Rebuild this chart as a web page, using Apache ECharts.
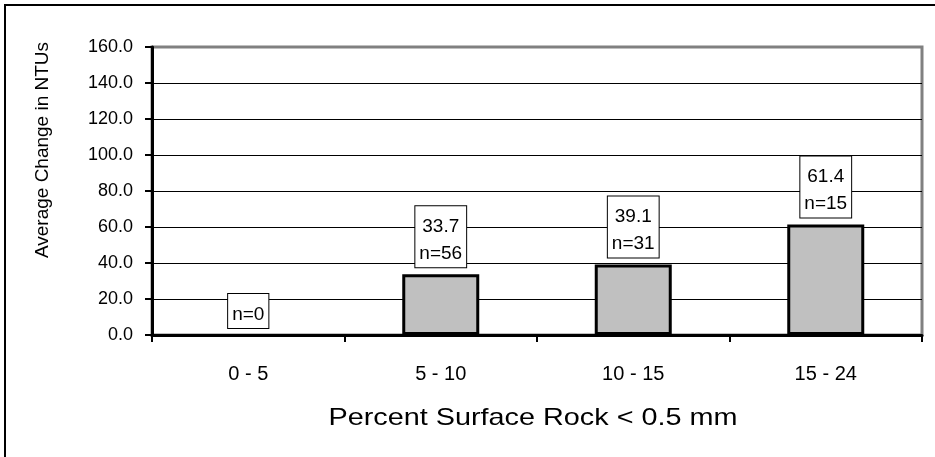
<!DOCTYPE html>
<html>
<head>
<meta charset="utf-8">
<script src="https://cdn.jsdelivr.net/npm/echarts@6/dist/echarts.min.js"></script>
<style>
  html, body { margin: 0; padding: 0; background: #fff; }
  #chart { width: 935px; height: 457px; }
</style>
</head>
<body>
<div id="chart"></div>
<script>
// ---- Data ----
const categories = ['0 - 5', '5 - 10', '10 - 15', '15 - 24'];
const avgChange = [0, 33.7, 39.1, 61.4];
const sampleCounts = [0, 56, 31, 15];
const yMin = 0, yMax = 160, yStep = 20;
const xTitle = 'Percent Surface Rock < 0.5 mm';
const yTitle = 'Average Change in NTUs';

const FONT = '"Liberation Sans", Arial, Helvetica, sans-serif';

const chart = echarts.init(document.getElementById('chart'), null, { renderer: 'canvas' });

const barData = avgChange.map((v, i) => ({
  value: v,
  n: sampleCounts[i],
  itemStyle: v === 0 ? { borderWidth: 0 } : {}
}));

chart.setOption({
  backgroundColor: '#ffffff',
  animation: false,
  grid: {
    left: 152, right: 13, top: 47, bottom: 122,
    show: true,
    borderColor: '#808080',
    borderWidth: 3,
    backgroundColor: 'transparent'
  },
  xAxis: {
    type: 'category',
    data: categories,
    boundaryGap: true,
    axisLine: { show: true, lineStyle: { color: '#000', width: 3 } },
    axisTick: { show: true, length: 7, alignWithLabel: false, lineStyle: { color: '#000', width: 2 } },
    axisLabel: { color: '#000', fontSize: 20, fontFamily: FONT, margin: 29 },
    splitLine: { show: false }
  },
  yAxis: {
    type: 'value',
    min: yMin, max: yMax, interval: yStep,
    axisLine: { show: true, lineStyle: { color: '#000', width: 3 } },
    axisTick: { show: true, length: 7, inside: false, lineStyle: { color: '#000', width: 2 } },
    axisLabel: {
      color: '#000', fontSize: 18, fontFamily: FONT, margin: 12,
      padding: [6, 7, 0, 0],
      formatter: v => v.toFixed(1)
    },
    splitLine: { show: true, showMaxLine: false, lineStyle: { color: '#000', width: 1 } }
  },
  series: [{
    type: 'bar',
    data: barData,
    barWidth: 77,
    itemStyle: { color: '#c0c0c0', borderColor: '#000', borderWidth: 3 },
    label: {
      show: true,
      position: 'top',
      distance: 7,
      color: '#000',
      fontSize: 19,
      fontFamily: FONT,
      lineHeight: 27,
      backgroundColor: '#fff',
      borderColor: '#000',
      borderWidth: 1,
      padding: [7, 4, 0, 4],
      formatter: p => p.value > 0 ? (p.value.toFixed(1) + '\nn=' + p.data.n) : ('n=' + p.data.n)
    }
  }],
  graphic: [
    {
      type: 'rect', z: -10, silent: true,
      shape: { x: 5, y: 5, width: 1000, height: 1000 },
      style: { fill: 'none', stroke: '#000', lineWidth: 2 }
    },
    {
      type: 'text', x: 43, y: 150, rotation: Math.PI / 2, silent: true,
      style: { text: yTitle, fill: '#000', fontSize: 19, fontFamily: FONT, align: 'center', verticalAlign: 'middle' }
    },
    {
      type: 'text', x: 533, y: 418, scaleX: 1.2, silent: true,
      style: { text: xTitle, fill: '#000', fontSize: 24, fontFamily: FONT, align: 'center', verticalAlign: 'middle' }
    }
  ]
});
</script>
</body>
</html>
